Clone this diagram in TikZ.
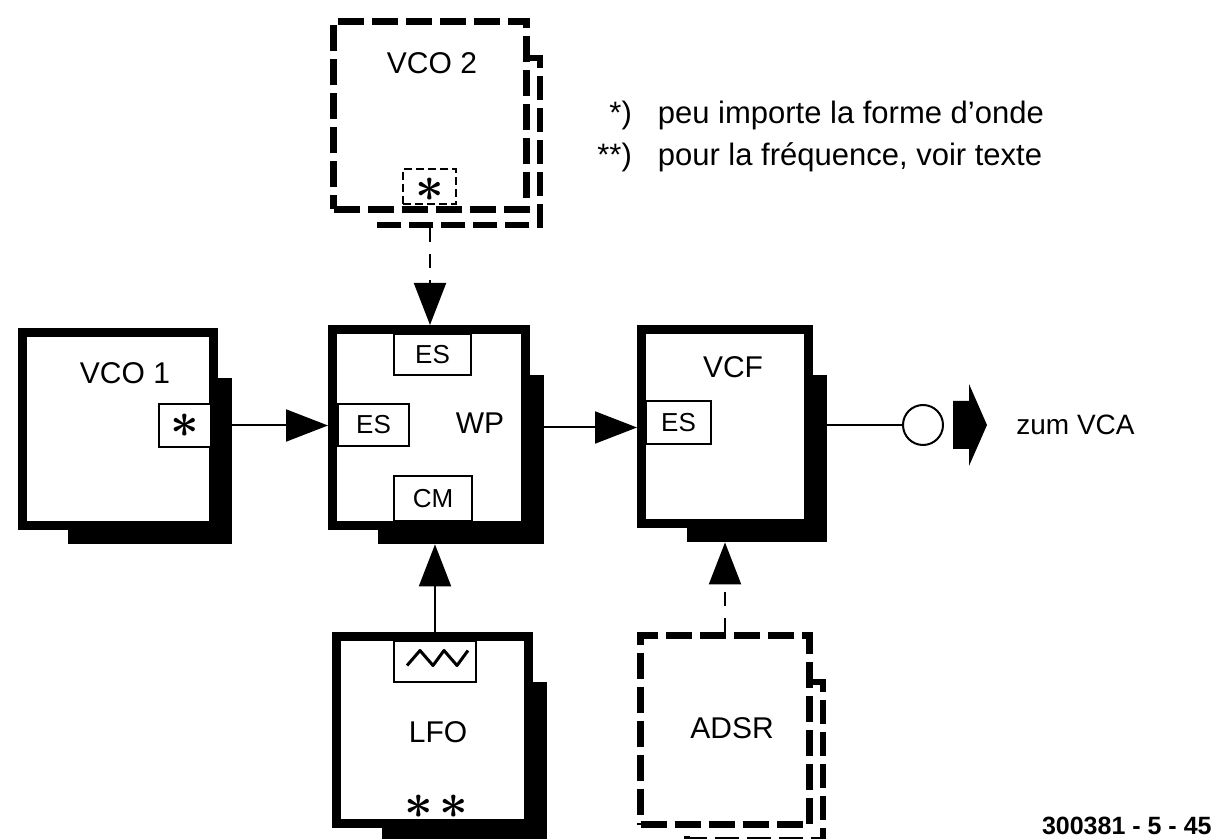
\documentclass[tikz,border=0pt]{standalone}
\usepackage{fontspec}
\setmainfont{Liberation Sans}
\usetikzlibrary{arrows.meta,calc,fit,backgrounds}

\begin{document}
\begin{tikzpicture}[x=0.5pt,y=-0.5pt,
  every node/.style={font=\fontsize{15}{18}\selectfont,inner sep=0pt},
  unit/.style={draw,line width=4.5pt,fill=white},
  dunit/.style={draw,line width=3.5pt,dash pattern=on 13pt off 4pt,fill=white},
  jack/.style={draw,line width=1pt,fill=white,font=\fontsize{13}{15}\selectfont},
  djack/.style={jack,dash pattern=on 4pt off 2pt},
  star/.style={font=\fontsize{30}{30}\selectfont\boldmath},
  shade/.style={fill=black},
  dshade/.style={line width=3pt,dash pattern=on 12pt off 4pt},
  arr/.style={-{Triangle[length=21pt,width=16pt]},line width=1pt},
  darr/.style={arr,dash pattern=on 7pt off 6pt}
]
\path[use as bounding box] (0,0) rectangle (1216,839);
\clip (0,0) rectangle (1216,839);

% blocks
\node[unit,minimum width=95.5pt,minimum height=96.5pt] (vco1) at (118,429) {};
\node[unit,minimum width=96.5pt,minimum height=98pt] (wp) at (429,427.5) {};
\node[unit,minimum width=83.5pt,minimum height=97pt] (vcf) at (725,426.5) {};
\node[unit,minimum width=96pt,minimum height=93.5pt] (lfo) at (432.5,730) {};
\node[dunit,minimum width=96.5pt,minimum height=94pt] (vco2) at (430,115.5) {};
\node[dunit,minimum width=84.5pt,minimum height=94.5pt] (adsr) at (725,730) {};

% shadows
\begin{scope}[on background layer]
\foreach \blk in {vco1,wp,vcf,lfo}
  \node[shade,fit={($(\blk.north west)+(25pt,-25pt)$) ($(\blk.south east)+(7pt,-7pt)$)}] (\blk sh) {};
\end{scope}
\draw[dshade] ($(vco2.north east)+(-2pt,-20pt)$) -| ($(vco2.south east)+(5pt,-6pt)$) -| ($(vco2.south west)+(25pt,-2pt)$);
\draw[dshade] ($(adsr.north east)+(-2pt,-25pt)$) -| ($(adsr.south east)+(5pt,-6pt)$) -| ($(adsr.south west)+(25pt,-2pt)$);

% inputs
\node[jack,minimum width=26pt,minimum height=21.5pt] (vco1j) at (185,425.5) {};
\node[star] at (vco1j) {$\ast$};
\node[jack,minimum width=38.5pt,minimum height=20.5pt] (wpes1) at (432.5,354.5) {ES};
\node[jack,minimum width=35.5pt,minimum height=21pt] (wpes2) at (373.5,425) {ES};
\node[jack,minimum width=39pt,minimum height=22.5pt] (wpcm) at (433,498.5) {CM};
\node[jack,minimum width=32.5pt,minimum height=21.5pt] (vcfes) at (678.5,422.5) {ES};
\node[jack,minimum width=41pt,minimum height=20.5pt] (lfoj) at (435,661.5) {};
\node[djack,minimum width=26.5pt,minimum height=17.5pt] (vco2j) at (429.5,186.5) {};
\node[star,font=\fontsize{27}{27}\selectfont\boldmath] at ([yshift=-1.5pt]vco2j) {$\ast$};
\draw[line width=1.5pt,line join=round] ($(lfoj.center)+(-28,4)$) -- ++(13,-15) -- ++(13,15) -- ++(11,-15) -- ++(13,15) -- ++(11,-15);

% labels
\node (vco1t) at (125,373) {VCO 1};
\node (wpt) at (480,423) {WP};
\node (vcft) at (733,367) {VCF};
\node (vco2t) at (432,63) {VCO 2};
\node (lfot) at (438,732) {LFO};
\node (adsrt) at (732,728) {ADSR};
\node[star,font=\fontsize{27}{27}\selectfont\boldmath] (lfostars) at (436,807) {$\mathord{\ast}\mkern2mu\mathord{\ast}$};

% signal path
\draw[arr] (vco1j.east) -- (vco1j.east -| wp.west);
\draw[arr] (wp.east) -- (wp.east -| vcf.west);
\node[draw,circle,line width=1pt,minimum size=20pt] (jackout) at (923,425) {};
\draw[line width=1pt] (vcf.east |- jackout.west) -- (jackout.west);
\coordinate (outtail) at ($(jackout.east)+(4.5pt,0)$);
\fill (outtail) ++(0,-24) -- ++(16,0) -- ++(0,-17) -- ++(18,41) -- ++(-18,41) -- ++(0,-17) -- ++(-16,0) -- cycle;
\node[anchor=west,font=\fontsize{14}{16}\selectfont] (vca) at (1016,425) {zum VCA};

% modulation
\draw[arr] (lfoj.north) -- (lfoj.north |- wpsh.south);
\coordinate (vco2foot) at ($(vco2.south)+(0,-7.5pt)$);
\draw[darr] (vco2foot) -- (vco2foot |- wp.north);
\draw[darr] (adsr.north) -- (adsr.north |- vcfsh.south);

% notes
\node[anchor=west,font=\fontsize{15.5}{21}\selectfont] (legend) at (597,136)
  {\begin{tabular}{@{}r@{\hspace{13pt}}l@{}}*) & peu importe la forme d'onde\\ \relax**) & pour la fréquence, voir texte\end{tabular}};
\node[anchor=base east,font=\fontsize{12.5}{14}\selectfont\bfseries] (figno) at (1212,834) {300381 - 5 - 45};
\end{tikzpicture}
\end{document}
